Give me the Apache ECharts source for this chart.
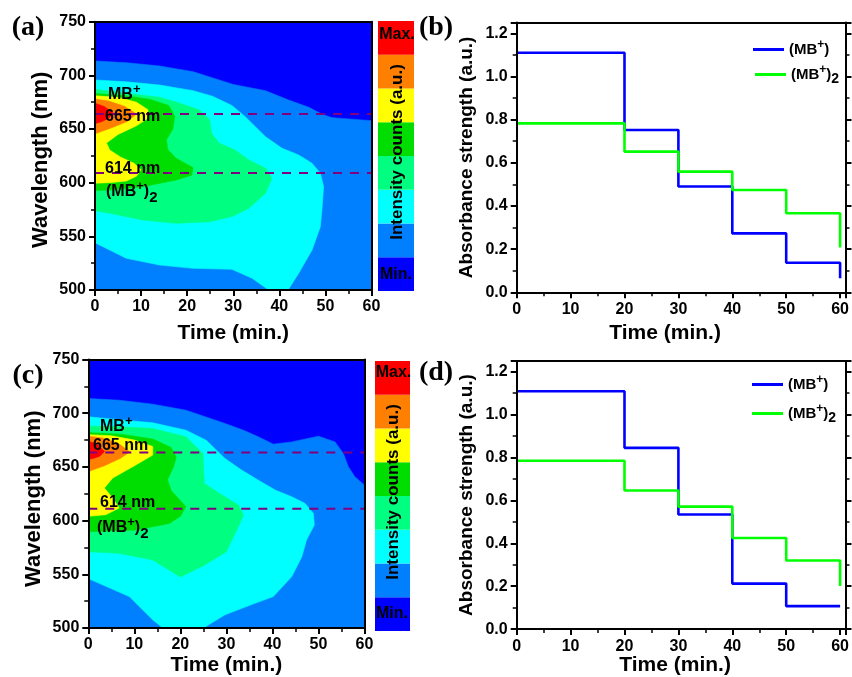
<!DOCTYPE html>
<html><head><meta charset="utf-8">
<script src="https://cdn.jsdelivr.net/npm/echarts@6/dist/echarts.min.js"></script>
<style>html,body{margin:0;padding:0;background:#fff}#chart{width:852px;height:677px}</style>
</head><body><div id="chart"></div>
<script>
// ---------- data ----------
const levelColors = ['#0000FF', '#0080FF', '#00FFFF', '#00FF80', '#00DD00', '#FFFF00', '#FF8000', '#FF0000'];
const timeTicks = [0, 10, 20, 30, 40, 50, 60];
const stepTimes = [0, 20, 30, 40, 50, 60];
// panel (b)
const bMB  = [1.110, 0.752, 0.490, 0.273, 0.137, 0.065];
const bMB2 = [0.783, 0.652, 0.559, 0.474, 0.366, 0.208];
// panel (d)
const dMB  = [1.109, 0.845, 0.534, 0.212, 0.107, 0.104];
const dMB2 = [0.785, 0.646, 0.571, 0.425, 0.320, 0.201];

// contour regions, [time (min), wavelength (nm)] boundaries, panel (a)
const aMin = [[0,500],[60,500],[60,750],[0,750]];
const aMidBlue = [[0,713.4],[6.8,711.8],[14,708.7],[21.3,703.4],[30,691.5],[37,685.7],[42,677],[46.4,670.2],[49.3,663.7],[51.4,660.6],[60,657.8],[60,500],[0,500]];
const aCyan = [[0,695.7],[6.8,694],[14,691],[21.3,685.7],[25.5,680.5],[29.7,672],[32.6,661.5],[34.8,652.2],[37,642.8],[40.6,632],[44.2,625.8],[47.1,618],[48.9,608.7],[49.6,596.3],[49.3,577.6],[48.9,559],[47.1,537.3],[44.2,515.6],[41.9,500],[37.7,500],[34.1,510.9],[29.7,519.3],[21.3,520.2],[14,523.3],[6.8,529.5],[0,544]];
const aLightGreen = [[0,687],[6.8,683.3],[14,679.6],[18.4,674],[22.7,667.7],[24.9,658.4],[25.3,646],[27,636.7],[30.4,630.4],[33.4,621.1],[37,613.4],[38.4,604.1],[37,590.1],[33.4,576.1],[29.7,568.4],[24.9,563.6],[17.6,562.1],[10.4,565.2],[3.2,571.5],[0,573.9]];
const aGreen = [[0,683],[6.8,681],[12,677.5],[16,672],[17.3,662],[16.9,650],[15.5,640],[15.8,631],[17.5,623],[21.3,614],[21,607],[17.6,602.5],[10.4,596.3],[3.2,593.2],[0,592.6]];
const aYellow = [[0,681],[5,679.5],[9,675],[11.5,668],[11.5,660],[9,653],[5,645],[2.5,637],[3.2,630.4],[5.5,624],[8.5,618],[10,612],[9,606],[6.8,601.5],[3,600],[0,599.5]];
const aOrange = [[0,678],[3,676],[6.5,671],[9,664],[7,657],[3.5,651],[0,645.5]];
const aRed = [[0,674],[2,671],[4,665],[3,660],[1.5,657],[0,655]];

// panel (c)
const cMin = [[0,500],[60,500],[60,750],[0,750]];
const cMidBlue = [[0,713.6],[6.7,712.1],[14,708.4],[21.2,702.8],[30,690],[34,683.6],[36.9,678],[40.2,671.2],[44.2,673.3],[50,678.6],[53.6,673.3],[55.4,662.5],[56.5,650.1],[57.9,640.8],[60,633],[60,500],[0,500]];
const cCyan = [[0,696.6],[6.7,694],[14,691],[21.2,684.2],[25.6,674.9],[29.7,657.8],[33.3,647],[36.9,637.7],[40.6,628.4],[44.2,622.2],[47.1,616],[48.9,606.7],[49.1,595.9],[47.4,582],[46.4,566.5],[44.2,547.9],[40.2,529.3],[36.2,523],[29.7,512.3],[25,500],[16.2,500],[14,507.6],[8.9,529.3],[0,546]];
const cLightGreen = [[0,688],[7,687.3],[14,685.7],[21.2,678],[24.9,662.5],[25.2,634.6],[28.5,625.3],[29.7,622.2],[32.6,614.5],[33.7,605.2],[32.6,594.3],[30,571],[25,558],[20,547.5],[14,563.4],[6.7,569.5],[0,571]];
const cGreen = [[0,682],[7,680.5],[14,676],[18,668],[19.1,659],[18.5,650],[17.2,638],[18,628],[21.2,613],[20,604],[17.6,597.4],[10.4,591.3],[0,589.7]];
const cYellow = [[0,680],[5,679],[10,675],[14,669],[14,661],[10.4,652],[5.3,639.6],[3.5,630.3],[5.3,621],[6.7,611.7],[3.8,605.5],[0,604]];
const cOrange = [[0,678.5],[3,677],[6.5,672],[9,664],[7,658],[3.5,651],[0,645.7]];
const cRed = [[0,674],[2,671],[3.5,664.3],[2.5,660],[1.2,658],[0,657]];

const aRegions = [aMin, aMidBlue, aCyan, aLightGreen, aGreen, aYellow, aOrange, aRed];
const cRegions = [cMin, cMidBlue, cCyan, cLightGreen, cGreen, cYellow, cOrange, cRed];
const aDashLevels = [663.9, 609];
const cDashLevels = [663.4, 611];

// ---------- chart ----------
const FONT = 'Liberation Sans, Arial, sans-serif';
const SERIF = 'Liberation Serif, Times New Roman, serif';
const chart = echarts.init(document.getElementById('chart'), null, {renderer: 'canvas'});

function mainAxis(extra) {
  return Object.assign({
    type: 'value',
    z: 10,
    axisLine: {show: true, onZero: false, lineStyle: {color: '#000', width: 2}},
    axisTick: {show: true, inside: false, length: 6, lineStyle: {color: '#000', width: 2}},
    minorTick: {show: true, splitNumber: 2, length: 4, lineStyle: {color: '#000', width: 1.5}},
    axisLabel: {color: '#000', fontSize: 16, fontWeight: 'bold', fontFamily: FONT, margin: 9},
    splitLine: {show: false},
    nameTextStyle: {color: '#000', fontSize: 21, fontWeight: 'bold', fontFamily: FONT},
    nameLocation: 'middle'
  }, extra);
}
function borderAxis(extra, ticks) {
  return Object.assign({
    type: 'value',
    z: 10,
    axisLine: {show: true, onZero: false, lineStyle: {color: '#000', width: 2}},
    axisTick: {show: !!ticks, inside: false, length: 6, lineStyle: {color: '#000', width: 2}},
    minorTick: {show: !!ticks, splitNumber: 2, length: 4, lineStyle: {color: '#000', width: 1.5}},
    axisLabel: {show: false},
    splitLine: {show: false}
  }, extra);
}
function hiddenAxis(extra) {
  return Object.assign({type: 'value', show: false, splitLine: {show: false}}, extra);
}

function contourSeries(regions, xi, yi) {
  return {
    type: 'custom', xAxisIndex: xi, yAxisIndex: yi, silent: true, clip: true, z: 2,
    data: regions.map((r, i) => [i]),
    renderItem: function (params, api) {
      const idx = api.value(0);
      const pts = regions[idx].map(p => api.coord(p));
      return {type: 'polygon', shape: {points: pts},
        style: {fill: levelColors[idx], stroke: levelColors[idx], lineWidth: 0.6}};
    }
  };
}
function colorbarSeries(xi, yi) {
  return {
    type: 'custom', xAxisIndex: xi, yAxisIndex: yi, silent: true,
    data: levelColors.map((c, i) => [i]),
    renderItem: function (params, api) {
      const i = api.value(0);
      const p1 = api.coord([0, i + 1]);
      const p2 = api.coord([1, i]);
      return {type: 'rect', shape: {x: p1[0], y: p1[1], width: p2[0] - p1[0], height: p2[1] - p1[1]},
        style: {fill: levelColors[i]}};
    }
  };
}
function dashSeries(levels, xi, yi) {
  return levels.map(v => ({
    type: 'line', xAxisIndex: xi, yAxisIndex: yi, silent: true, symbol: 'none', z: 3,
    data: [[0, v], [60, v]],
    lineStyle: {color: '#800080', width: 2, type: [9, 8]}
  }));
}
function stepSeries(name, values, color, xi, yi) {
  return {
    name: name, type: 'line', step: 'end', xAxisIndex: xi, yAxisIndex: yi,
    symbol: 'none', showSymbol: false,
    data: stepTimes.map((t, i) => [t, values[i]]),
    lineStyle: {color: color, width: 2.6}, itemStyle: {color: color}
  };
}

const richLabel = {
  sup: {fontSize: 12, fontWeight: 'bold', fontFamily: FONT, color: '#000', padding: [0, 0, 9, 0]},
  sub: {fontSize: 14, fontWeight: 'bold', fontFamily: FONT, color: '#000', padding: [9, 0, 0, 0]}
};
function legendItem(name, left, top) {
  return {
    data: [name], left: left, top: top, orient: 'vertical', padding: 0, itemGap: 0,
    icon: 'rect', itemWidth: 31, itemHeight: 3, selectedMode: false,
    formatter: n => n === '(MB+)' ? '(MB{sup|+})' : '(MB{sup|+}){sub|2}',
    textStyle: {fontSize: 15, fontWeight: 'bold', fontFamily: FONT, color: '#000', lineHeight: 20, rich: richLabel}
  };
}
function annot(x, y, text, fontSize) {
  return {type: 'text', x: x, y: y, z: 100, style: {
    text: text, fontSize: fontSize || 16, fontWeight: 'bold', fontFamily: FONT, fill: '#000',
    verticalAlign: 'middle', align: 'left',
    rich: {
      sup: {fontSize: 13, fontWeight: 'bold', fontFamily: FONT, fill: '#000', padding: [0, 0, 11, 0]},
      sub: {fontSize: 15, fontWeight: 'bold', fontFamily: FONT, fill: '#000', padding: [11, 0, 0, 0]}
    }}};
}
function plain(x, y, text, opts) {
  return {type: 'text', x: x, y: y, z: 100, rotation: (opts && opts.rot) || 0, style: Object.assign({
    text: text, fontSize: 16, fontWeight: 'bold', fontFamily: FONT, fill: '#000',
    verticalAlign: 'middle', align: 'center'}, (opts && opts.style) || {})};
}

const option = {
  animation: false,
  backgroundColor: '#fff',
  grid: [
    {left: 95, top: 21.7, width: 276.5, height: 268.3},
    {left: 378, top: 21, width: 36, height: 270},
    {left: 516.7, top: 22.55, width: 331.4, height: 269.75},
    {left: 88.3, top: 359.5, width: 276.2, height: 269},
    {left: 375, top: 361, width: 35, height: 270},
    {left: 516.7, top: 360.95, width: 331.4, height: 269.75}
  ],
  xAxis: [
    mainAxis({gridIndex: 0, min: 0, max: 60, interval: 10, name: 'Time (min.)', nameGap: 33, position: 'bottom'}),
    borderAxis({gridIndex: 0, min: 0, max: 60, position: 'top'}),
    hiddenAxis({gridIndex: 1, min: 0, max: 1}),
    mainAxis({gridIndex: 2, min: 0, max: 61, interval: 10, name: 'Time (min.)', nameGap: 30, position: 'bottom',
      axisLabel: {color: '#000', fontSize: 16, fontWeight: 'bold', fontFamily: FONT, margin: 9, showMaxLabel: false},
      nameTextStyle: {color: '#000', fontSize: 21, fontWeight: 'bold', fontFamily: FONT, padding: [0, 32, 0, 0]}}),
    borderAxis({gridIndex: 2, min: 0, max: 61, position: 'top'}),
    mainAxis({gridIndex: 3, min: 0, max: 60, interval: 10, name: 'Time (min.)', nameGap: 27, position: 'bottom'}),
    borderAxis({gridIndex: 3, min: 0, max: 60, position: 'top'}),
    hiddenAxis({gridIndex: 4, min: 0, max: 1}),
    mainAxis({gridIndex: 5, min: 0, max: 61, interval: 10, name: 'Time (min.)', nameGap: 25, position: 'bottom',
      axisLabel: {color: '#000', fontSize: 16, fontWeight: 'bold', fontFamily: FONT, margin: 9, showMaxLabel: false},
      nameTextStyle: {color: '#000', fontSize: 21, fontWeight: 'bold', fontFamily: FONT, padding: [0, 12, 0, 0]}}),
    borderAxis({gridIndex: 5, min: 0, max: 61, position: 'top'})
  ],
  yAxis: [
    mainAxis({gridIndex: 0, min: 500, max: 750, interval: 50, name: 'Wavelength (nm)', nameGap: 43, position: 'left',
      nameTextStyle: {color: '#000', fontSize: 22, fontWeight: 'bold', fontFamily: FONT, padding: [0, 8, 0, 0]}}),
    borderAxis({gridIndex: 0, min: 500, max: 750, position: 'right'}),
    hiddenAxis({gridIndex: 1, min: 0, max: 8}),
    mainAxis({gridIndex: 2, min: 0, max: 1.25, interval: 0.2, name: 'Absorbance strength (a.u.)', nameGap: 40, position: 'left',
      axisLabel: {color: '#000', fontSize: 16, fontWeight: 'bold', fontFamily: FONT, margin: 9, showMaxLabel: false,
        formatter: v => v.toFixed(1)},
      nameTextStyle: {color: '#000', fontSize: 19, fontWeight: 'bold', fontFamily: FONT}}),
    borderAxis({gridIndex: 2, min: 0, max: 1.25, interval: 0.2, position: 'right'}, true),
    mainAxis({gridIndex: 3, min: 500, max: 750, interval: 50, name: 'Wavelength (nm)', nameGap: 43, position: 'left',
      nameTextStyle: {color: '#000', fontSize: 22, fontWeight: 'bold', fontFamily: FONT, padding: [0, 10, 0, 0]}}),
    borderAxis({gridIndex: 3, min: 500, max: 750, position: 'right'}),
    hiddenAxis({gridIndex: 4, min: 0, max: 8}),
    mainAxis({gridIndex: 5, min: 0, max: 1.25, interval: 0.2, name: 'Absorbance strength (a.u.)', nameGap: 40, position: 'left',
      axisLabel: {color: '#000', fontSize: 16, fontWeight: 'bold', fontFamily: FONT, margin: 9, showMaxLabel: false,
        formatter: v => v.toFixed(1)},
      nameTextStyle: {color: '#000', fontSize: 19, fontWeight: 'bold', fontFamily: FONT}}),
    borderAxis({gridIndex: 5, min: 0, max: 1.25, interval: 0.2, position: 'right'}, true)
  ],
  legend: [
    legendItem('(MB+)', 753, 39),
    legendItem('(MB+)2', 755, 64),
    legendItem('(MB+)', 752, 374),
    legendItem('(MB+)2', 752, 403)
  ],
  series: [
    contourSeries(aRegions, 0, 0),
    ...dashSeries(aDashLevels, 0, 0),
    colorbarSeries(2, 2),
    stepSeries('(MB+)', bMB, '#0000FF', 3, 3),
    stepSeries('(MB+)2', bMB2, '#00FF00', 3, 3),
    contourSeries(cRegions, 5, 5),
    ...dashSeries(cDashLevels, 5, 5),
    colorbarSeries(7, 7),
    stepSeries('(MB+)', dMB, '#0000FF', 8, 8),
    stepSeries('(MB+)2', dMB2, '#00FF00', 8, 8)
  ],
  graphic: [
    plain(28, 28, '(a)', {style: {fontSize: 28, fontFamily: SERIF}}),
    plain(436, 28, '(b)', {style: {fontSize: 28, fontFamily: SERIF}}),
    plain(28, 376, '(c)', {style: {fontSize: 28, fontFamily: SERIF}}),
    plain(436, 373, '(d)', {style: {fontSize: 28, fontFamily: SERIF}}),
    plain(397, 35, 'Max.'),
    plain(396, 275, 'Min.'),
    plain(397, 152, 'Intensity counts (a.u.)', {rot: Math.PI / 2, style: {fontSize: 17}}),
    plain(393.5, 372.7, 'Max.'),
    plain(392, 614, 'Min.'),
    plain(393, 492, 'Intensity counts (a.u.)', {rot: Math.PI / 2, style: {fontSize: 17}}),
    annot(108, 95, 'MB{sup|+}'),
    annot(105, 117, '665 nm'),
    annot(105, 169, '614 nm'),
    annot(106, 192, '(MB{sup|+}){sub|2}'),
    annot(100, 427, 'MB{sup|+}'),
    annot(93, 446, '665 nm'),
    annot(100, 503, '614 nm'),
    annot(97, 528, '(MB{sup|+}){sub|2}')
  ]
};
chart.setOption(option);
</script></body></html>
